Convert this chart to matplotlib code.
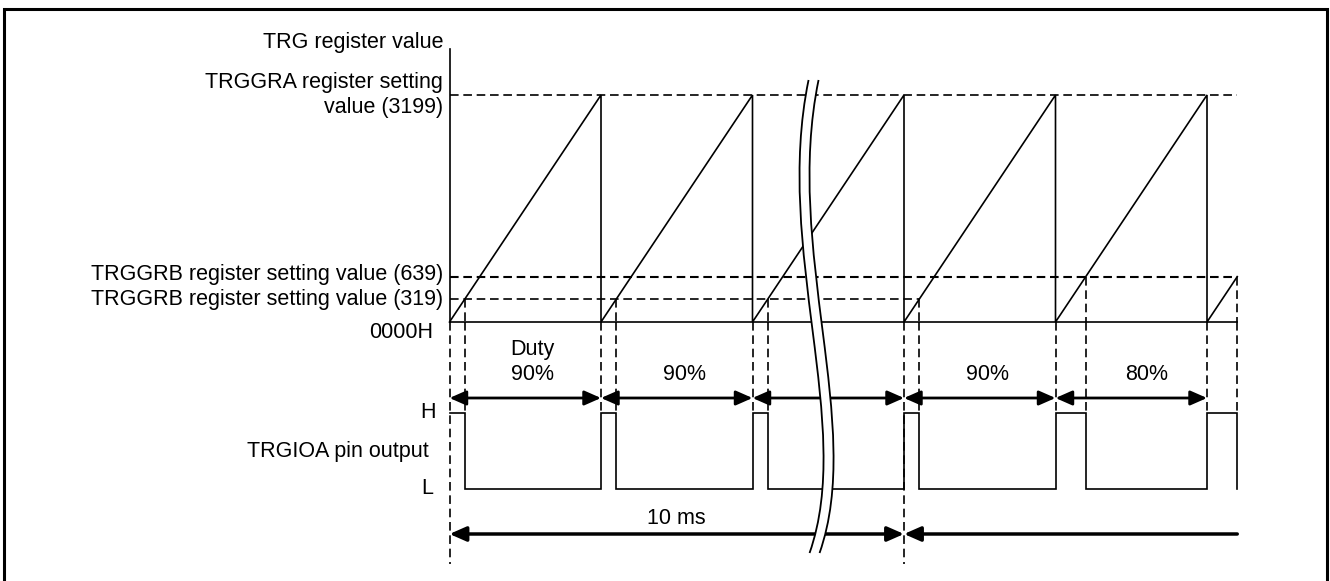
import matplotlib
matplotlib.use("Agg")
import matplotlib.pyplot as plt
import matplotlib.transforms as mtransforms
from matplotlib.patches import Rectangle, PathPatch
from matplotlib.path import Path

plt.rcParams["font.family"] = ["Liberation Sans", "DejaVu Sans"]
plt.rcParams["font.size"] = 15.5
plt.rcParams["lines.scale_dashes"] = False

# timer settings
TRGGRA = 3199
PERIOD = TRGGRA + 1
trggrb = [319, 319, 319, 319, 639, 639]      # compare value in each period (last one is cut)
duty_labels = ["Duty\n90%", "90%", "", "90%", "80%"]
reg_values = [3199, 639, 319]
reg_labels = ["TRGGRA register setting\nvalue (3199)",
              "TRGGRB register setting value (639)",
              "TRGGRB register setting value (319)"]
ten_ms_periods = 3
n_full = len(trggrb) - 1
x_end = n_full * PERIOD + trggrb[-1]

# layout (pixels of a 1330x581 picture)
W, H = 1330, 581
px_x0, px_per_period = 449.5, 151.5
px_base, px_top = 322, 49
px_3199 = 95
px_L, px_H = 489, 413
cnt_per_px = PERIOD / px_per_period

fig = plt.figure(figsize=(W / 100, H / 100), dpi=100, facecolor="white")
ax_w = x_end / cnt_per_px / W
ax_cnt = fig.add_axes([px_x0 / W, (H - px_base) / H, ax_w, (px_base - px_top) / H])
ax_pin = fig.add_axes([px_x0 / W, 0, ax_w, (H - px_base) / H])

y_top = TRGGRA * (px_base - px_top) / (px_base - px_3199)
ax_cnt.set_xlim(0, x_end)
ax_cnt.set_ylim(0, y_top)
lvl = px_L - px_H
ax_pin.set_xlim(0, x_end)
ax_pin.set_ylim(-(H - px_L) / lvl, (px_L - px_base) / lvl)

thin = 1.2
dash = (0, (6.2, 3.4))

for a in (ax_cnt, ax_pin):
    a.patch.set_visible(False)
    a.set_xticks([])
    a.set_yticks([])
    for s in a.spines.values():
        s.set_visible(False)
ax_cnt.spines["left"].set_visible(True)
ax_cnt.spines["left"].set_linewidth(thin)

# counter sawtooth
xs, ys = [0], [0]
for k in range(n_full):
    xs += [(k + 1) * PERIOD, (k + 1) * PERIOD]
    ys += [TRGGRA, 0]
xs.append(x_end)
ys.append(trggrb[-1])
ax_cnt.plot(xs, ys, color="black", lw=thin, clip_on=False, solid_joinstyle="miter")
ax_cnt.plot([0, x_end], [0, 0], color="black", lw=thin, clip_on=False)

# register level dashed lines
for v in reg_values:
    if v == TRGGRA:
        stop = x_end
    else:
        stop = max(k * PERIOD + b for k, b in enumerate(trggrb) if b == v)
    ax_cnt.plot([0, stop], [v, v], color="black", lw=1.5 if v == 639 else thin,
                linestyle=dash, clip_on=False)

# vertical dashed markers
ylo, yhi = ax_pin.get_ylim()
for k, b in enumerate(trggrb):
    xr = k * PERIOD
    xm = xr + b
    ax_cnt.plot([xm, xm], [b, 0], color="black", lw=thin, linestyle=dash, clip_on=False)
    ax_pin.plot([xm, xm], [yhi, 1], color="black", lw=thin, linestyle=dash, clip_on=False)
    low = -0.99 if k in (0, ten_ms_periods) else 1
    ax_pin.plot([xr, xr], [yhi, low], color="black", lw=thin, linestyle=dash, clip_on=False)

# TRGIOA output
px_, py_ = [], []
for k, b in enumerate(trggrb):
    s = k * PERIOD
    if k > 0:
        px_ += [s]
        py_ += [0]
    px_ += [s, s + b, s + b]
    py_ += [1, 1, 0]
ax_pin.plot(px_, py_, color="black", lw=thin, clip_on=False, solid_joinstyle="miter")

# duty arrows and labels
y_duty = (px_L - 398) / lvl
y_duty_txt = (px_L - 385) / lvl
arrow2 = dict(arrowstyle="<|-|>,head_length=0.5,head_width=0.22", mutation_scale=20,
              lw=2, color="black", shrinkA=0, shrinkB=0)
for k in range(n_full):
    ax_pin.annotate("", xy=((k + 1) * PERIOD, y_duty), xytext=(k * PERIOD, y_duty),
                    arrowprops=arrow2, annotation_clip=False)
    if duty_labels[k]:
        mid = k * PERIOD + (trggrb[k] + PERIOD) / 2
        ax_pin.text(mid, y_duty_txt, duty_labels[k], ha="center", va="bottom",
                    linespacing=1.25)

# 10 ms
y_ms = (px_L - 534) / lvl
ax_pin.annotate("", xy=(ten_ms_periods * PERIOD, y_ms), xytext=(0, y_ms),
                arrowprops=dict(arrow2, lw=2.5), annotation_clip=False)
ax_pin.annotate("", xy=(ten_ms_periods * PERIOD, y_ms), xytext=(x_end, y_ms),
                arrowprops=dict(arrow2, lw=2.5,
                                arrowstyle="-|>,head_length=0.5,head_width=0.22"),
                annotation_clip=False)
ax_pin.text(ten_ms_periods * PERIOD / 2, (px_L - 519) / lvl, "10 ms", ha="center", va="center")

# left labels
ax_cnt.annotate("TRG register value", xy=(0, y_top), xytext=(-4.5, 4.5),
                textcoords="offset points", ha="right", va="center", annotation_clip=False)
for v, lab in zip(reg_values, reg_labels):
    dy = 1.2 if v == 639 else 0
    ax_cnt.annotate(lab, xy=(0, v), xytext=(-4.7, dy), textcoords="offset points",
                    ha="right", va="center", linespacing=1.3, annotation_clip=False)
ax_cnt.annotate("0000H", xy=(0, 0), xytext=(-11.5, -7.7), textcoords="offset points",
                ha="right", va="center", annotation_clip=False)
ax_pin.annotate("H", xy=(0, 1), xytext=(-10, 0), textcoords="offset points",
                ha="right", va="center", annotation_clip=False)
ax_pin.annotate("L", xy=(0, 0), xytext=(-11.5, 0), textcoords="offset points",
                ha="right", va="center", annotation_clip=False)
ax_pin.annotate("TRGIOA pin output", xy=(0, 0.5), xytext=(-15, 0), textcoords="offset points",
                ha="right", va="center", annotation_clip=False)

# break mark across the omitted periods
brk = mtransforms.blended_transform_factory(ax_cnt.transData, fig.transFigure)
bx = 2.37 * PERIOD
shape = [(0, 80), (-35, 250), (46, 425), (1, 553)]
gap = 10
left = [(bx + dx * cnt_per_px, 1 - y / H) for dx, y in shape]
right = [(bx + (dx + gap) * cnt_per_px, 1 - y / H) for dx, y in shape]
fill = Path(left + right[::-1] + [left[0]],
            [Path.MOVETO, Path.CURVE4, Path.CURVE4, Path.CURVE4,
             Path.LINETO, Path.CURVE4, Path.CURVE4, Path.CURVE4, Path.CLOSEPOLY])
fig.add_artist(PathPatch(fill, transform=brk, facecolor="white", edgecolor="none", zorder=10))
for c in (left, right):
    fig.add_artist(PathPatch(Path(c, [Path.MOVETO, Path.CURVE4, Path.CURVE4, Path.CURVE4]),
                             transform=brk, facecolor="none", edgecolor="black",
                             lw=1.3, zorder=11))

# outer frame
fig.add_artist(Rectangle((4 / W, -0.02), (1327 - 4) / W, 1.02 - 8.7 / H,
                         transform=fig.transFigure, fill=False, lw=2.2,
                         edgecolor="black", zorder=12))

fig.savefig("out.png", dpi=100, facecolor="white")
